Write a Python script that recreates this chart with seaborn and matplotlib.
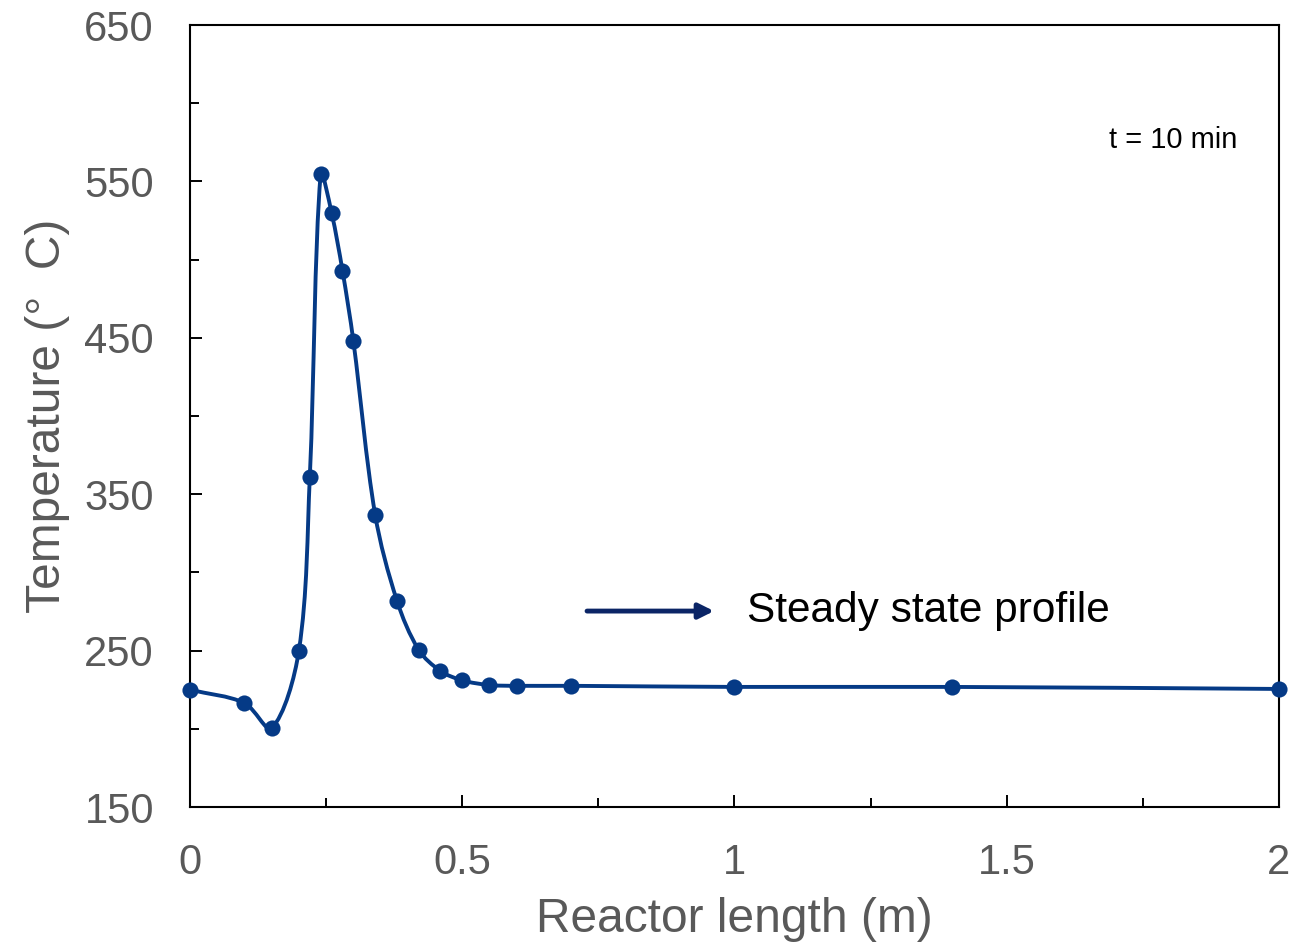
import numpy as np
import matplotlib
matplotlib.use("Agg")
import matplotlib.pyplot as plt
from matplotlib.path import Path
from matplotlib.patches import PathPatch
import seaborn as sns

# Data
reactor_length = [0, 0.1, 0.15, 0.2, 0.22, 0.24, 0.26, 0.28, 0.30, 0.34, 0.38,
                  0.42, 0.46, 0.5, 0.55, 0.6, 0.7, 1.0, 1.4, 2.0]
temperature = [225, 216.5, 200.5, 250, 361, 555, 530, 493, 448, 337, 282,
               250.5, 237, 231, 228, 227.5, 227.5, 226.8, 226.8, 225.5]

x_major = [0, 0.5, 1, 1.5, 2]
x_labels = ["0", "0.5", "1", "1.5", "2"]
x_minor = [0.25, 0.75, 1.25, 1.75]
y_major = [150, 250, 350, 450, 550, 650]
y_minor = [200, 300, 400, 500, 600]

line_color = "#053A86"
label_gray = "#595959"

sns.set_style("white")
plt.rcParams["font.family"] = ["Liberation Sans", "DejaVu Sans"]

fig = plt.figure(figsize=(12.97, 9.48), dpi=100)
ax = fig.add_axes([0.1465, 0.1487, 0.8396, 0.8249])
ax.set_xlim(0, 2)
ax.set_ylim(150, 650)

# Excel-like smoothed line: Bezier segments, control arms scaled by chord length
pix = ax.transData.transform(np.column_stack([reactor_length, temperature]))
n = len(pix)
arm_out = np.zeros_like(pix)
arm_in = np.zeros_like(pix)
for i in range(n):
    prev_p = pix[i - 1] if i > 0 else pix[i]
    next_p = pix[i + 1] if i < n - 1 else pix[i]
    d = next_p - prev_p
    a = np.hypot(*(pix[i] - prev_p))
    b = np.hypot(*(next_p - pix[i]))
    if a + b == 0:
        continue
    arm_out[i] = d * (b / (a + b)) / 3.0
    arm_in[i] = d * (a / (a + b)) / 3.0
verts = [pix[0]]
codes = [Path.MOVETO]
for i in range(n - 1):
    verts += [pix[i] + arm_out[i], pix[i + 1] - arm_in[i + 1], pix[i + 1]]
    codes += [Path.CURVE4] * 3
verts = ax.transData.inverted().transform(np.array(verts))
ax.add_patch(PathPatch(Path(verts, codes), facecolor="none",
                       edgecolor=line_color, lw=2.8, zorder=2,
                       capstyle="round", joinstyle="round"))

sns.scatterplot(x=reactor_length, y=temperature, ax=ax, color=line_color,
                s=135, linewidth=0, zorder=3, clip_on=False)

ax.set_xlim(0, 2)
ax.set_ylim(150, 650)
ax.set_xticks(x_major)
ax.set_xticklabels(x_labels)
ax.set_xticks(x_minor, minor=True)
ax.set_yticks(y_major)
ax.set_yticks(y_minor, minor=True)

ax.tick_params(which="both", direction="in", width=1.4, color="black",
               bottom=True, left=True, labelsize=30, labelcolor=label_gray, pad=26)
ax.tick_params(which="major", length=8.5)
ax.tick_params(which="minor", length=6.5)
for s in ax.spines.values():
    s.set_color("black")
    s.set_linewidth(1.5)

ax.set_xlabel("Reactor length (m)", fontsize=34.5, color=label_gray, labelpad=10)
ax.set_ylabel("Temperature (°  C)", fontsize=34.5, color=label_gray, labelpad=10)

ax.annotate("", xy=(0.4812, 0.2506), xytext=(0.3646, 0.2506),
            xycoords="axes fraction", textcoords="axes fraction",
            arrowprops=dict(arrowstyle="-|>,head_length=0.9,head_width=0.45",
                            color="#0B2566", lw=3.5, shrinkA=0, shrinkB=0))
ax.text(0.5115, 0.2506, "Steady state profile", transform=ax.transAxes,
        fontsize=30.5, color="black", va="center", ha="left")
ax.text(0.8439, 0.853, "t = 10 min", transform=ax.transAxes,
        fontsize=21, color="black", va="center", ha="left")

fig.savefig("out.png", dpi=100)
